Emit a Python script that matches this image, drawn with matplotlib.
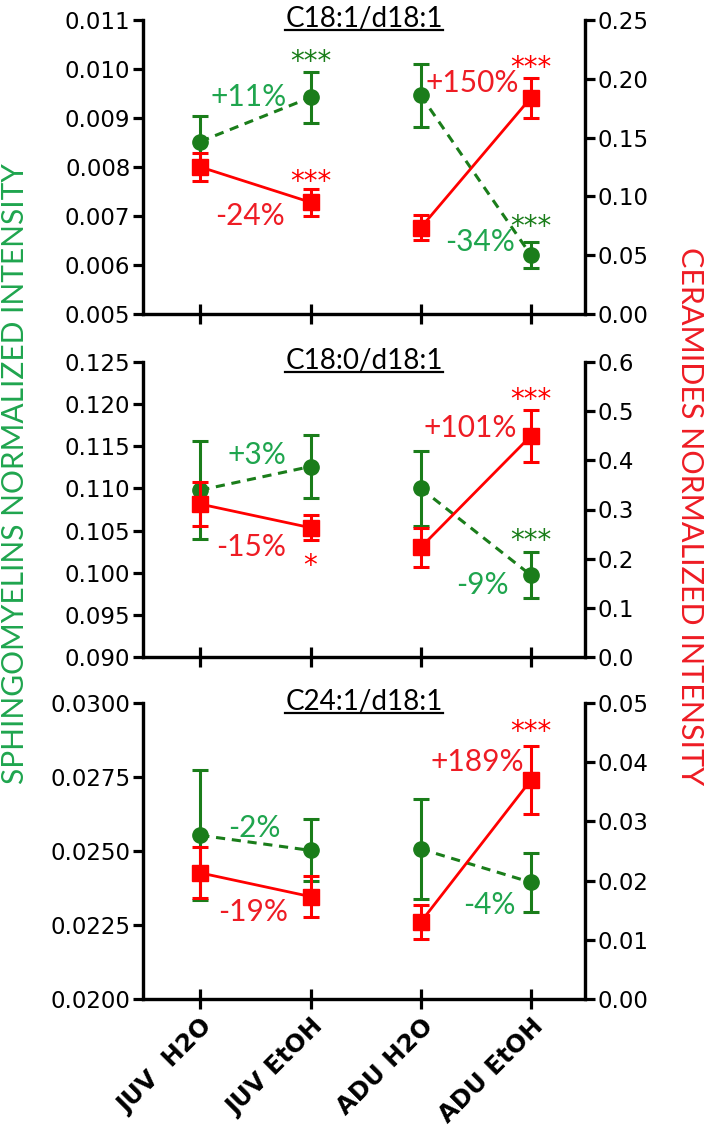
import numpy as np
import matplotlib.pyplot as plt
import matplotlib.ticker as mticker

# groups and panel titles
groups = ["JUV  H2O", "JUV EtOH", "ADU H2O", "ADU EtOH"]
titles = ["C18:1/d18:1", "C18:0/d18:1", "C24:1/d18:1"]

# sphingomyelins (left axis)
sm_mean = [[0.00852, 0.00942, 0.00946, 0.00620],
           [0.1098, 0.1126, 0.1100, 0.0997],
           [0.02553, 0.02502, 0.02507, 0.02394]]
sm_sem = [[0.00053, 0.00052, 0.00064, 0.00026],
          [0.0058, 0.0037, 0.0045, 0.0027],
          [0.0022, 0.00105, 0.0017, 0.0010]]

# ceramides (right axis)
cer_mean = [[0.125, 0.095, 0.0734, 0.184],
            [0.311, 0.263, 0.223, 0.450],
            [0.0213, 0.0173, 0.0130, 0.0370]]
cer_sem = [[0.0115, 0.0115, 0.0105, 0.017],
           [0.045, 0.026, 0.039, 0.053],
           [0.0043, 0.0035, 0.0029, 0.0057]]

# percent changes (JUV, ADU)
sm_pct = [["+11%", "-34%"], ["+3%", "-9%"], ["-2%", "-4%"]]
cer_pct = [["-24%", "+150%"], ["-15%", "+101%"], ["-19%", "+189%"]]

# significance marks per group
sm_stars = [["", "***", "", "***"], ["", "", "", "***"], ["", "", "", ""]]
cer_stars = [["", "***", "", "***"], ["", "*", "", "***"], ["", "", "", "***"]]

left_lim = [(0.005, 0.011, 0.001, "%.3f"), (0.090, 0.125, 0.005, "%.3f"), (0.0200, 0.0300, 0.0025, "%.4f")]
right_lim = [(0.0, 0.25, 0.05, "%.2f"), (0.0, 0.6, 0.1, "%.1f"), (0.0, 0.05, 0.01, "%.2f")]

# label placement (x in group units, y in axes fraction)
sm_pct_pos = [[(0.435, 0.738), (2.54, 0.245)], [(0.517, 0.685), (2.56, 0.244)], [(0.49, 0.578), (2.62, 0.318)]]
cer_pct_pos = [[(0.453, 0.333), (2.47, 0.786)], [(0.462, 0.373), (2.45, 0.776)], [(0.48, 0.294), (2.51, 0.801)]]
sm_star_y = [[0, 0.905, 0, 0.345], [0, 0, 0, 0.44], [0, 0, 0, 0]]
cer_star_y = [[0, 0.497, 0, 0.885], [0, 0.355, 0, 0.92], [0, 0, 0, 0.948]]

green = "#1a7d1a"
green_txt = "#1fa54e"
red = "#ff0000"
red_txt = "#ee1c24"

W, H = 706, 1133
fig = plt.figure(figsize=(W / 100, H / 100), dpi=100)
panel_px = [(20, 314), (362, 657), (703, 999)]
x0, x1 = 143, 585
xs = np.arange(len(groups))
tick_font = "DejaVu Sans"

for p in range(3):
    top, bot = panel_px[p]
    ax = fig.add_axes([x0 / W, 1 - bot / H, (x1 - x0) / W, (bot - top) / H])
    ax2 = ax.twinx()
    ax.set_xlim(-0.52, 3.49)

    lo, hi, st, fmt = left_lim[p]
    ax.set_ylim(lo, hi)
    ax.set_yticks(np.arange(lo, hi + st / 2, st))
    ax.yaxis.set_major_formatter(mticker.FormatStrFormatter(fmt))
    lo, hi, st, fmt = right_lim[p]
    ax2.set_ylim(lo, hi)
    ax2.set_yticks(np.arange(lo, hi + st / 2, st))
    ax2.yaxis.set_major_formatter(mticker.FormatStrFormatter(fmt))

    for a in (ax, ax2):
        a.spines["top"].set_visible(False)
        for s in ("left", "right", "bottom"):
            a.spines[s].set_linewidth(2.3)
        a.tick_params(axis="y", direction="out", length=7, width=2.3, labelsize=16.5, pad=2)
        for lab in a.get_yticklabels():
            lab.set_family(tick_font)
    ax.tick_params(axis="x", direction="inout", length=14, width=2.3, pad=4)
    ax.set_xticks(xs)
    if p == 2:
        ax.set_xticklabels(groups, rotation=45, ha="right", rotation_mode="anchor",
                           fontsize=17.5, fontweight="bold", family=tick_font)
    else:
        ax.set_xticklabels([])

    # JUV pair and ADU pair, sphingomyelins dashed green, ceramides solid red
    for k in (0, 2):
        ax.errorbar(xs[k:k + 2], sm_mean[p][k:k + 2], yerr=sm_sem[p][k:k + 2], color=green,
                    marker="o", ms=11, ls=(0, (3, 2.2)), lw=2.2, elinewidth=2.2,
                    capsize=6, capthick=2.2, clip_on=False)
        ax2.errorbar(xs[k:k + 2], cer_mean[p][k:k + 2], yerr=cer_sem[p][k:k + 2], color=red,
                     marker="s", ms=11, ls="-", lw=2.0, elinewidth=2.2,
                     capsize=6, capthick=2.2, clip_on=False)

    tr = ax.get_xaxis_transform()
    for j in range(2):
        x, y = sm_pct_pos[p][j]
        ax.text(x, y, sm_pct[p][j], transform=tr, color=green_txt, fontsize=21.5,
                family="Lato", ha="center", va="center")
        x, y = cer_pct_pos[p][j]
        ax.text(x, y, cer_pct[p][j], transform=tr, color=red_txt, fontsize=21.5,
                family="Lato", ha="center", va="center")
    for g in range(4):
        if sm_stars[p][g]:
            ax.text(xs[g], sm_star_y[p][g], sm_stars[p][g], transform=tr, color=green,
                    fontsize=20, family="DejaVu Sans", ha="center", va="top")
        if cer_stars[p][g]:
            ax.text(xs[g], cer_star_y[p][g], cer_stars[p][g], transform=tr, color=red,
                    fontsize=20, family="DejaVu Sans", ha="center", va="top")

    t = ax.text(0.5, 1.005, titles[p], transform=ax.transAxes, fontsize=20,
                family="Lato", ha="center", va="center", zorder=5)
    fig.canvas.draw()
    bb = t.get_window_extent().transformed(ax.transAxes.inverted())
    ax.plot([bb.x0, bb.x1], [bb.y0 + 0.005, bb.y0 + 0.005], transform=ax.transAxes,
            color="black", lw=1.6, clip_on=False)

fig.text(15 / W, 1 - 474 / H, "SPHINGOMYELINS NORMALIZED INTENSITY", rotation=90,
         color=green_txt, fontsize=21.5, family="Lato", ha="center", va="center")
fig.text(690 / W, 1 - 516 / H, "CERAMIDES NORMALIZED INTENSITY", rotation=270,
         color=red_txt, fontsize=22, family="Lato", ha="center", va="center")

fig.savefig("out.png", dpi=100)
